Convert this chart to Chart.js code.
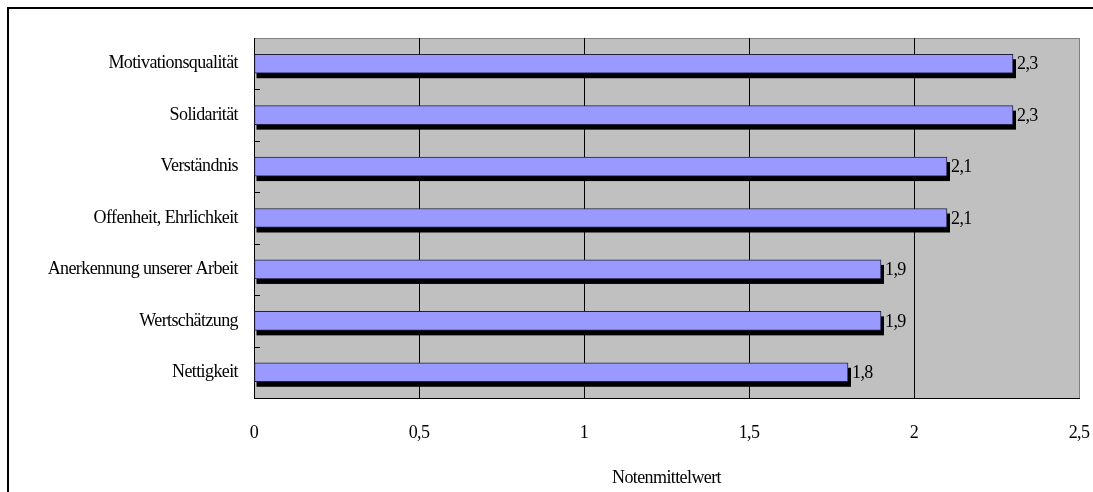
<!DOCTYPE html>
<html>
<head>
<meta charset="utf-8">
<title>Notenmittelwert</title>
<style>
    body { margin: 0; background: #fff; }
    #wrap { width: 1093px; height: 492px; }
</style>
</head>
<body>

<div id="wrap">
    <canvas id="myChart" width="1093" height="492"></canvas>
</div>

<script src="https://cdn.jsdelivr.net/npm/chart.js"></script>

<script>

    const kategorien = ['Motivationsqualität', 'Solidarität', 'Verständnis', 'Offenheit, Ehrlichkeit',
        'Anerkennung unserer Arbeit', 'Wertschätzung', 'Nettigkeit'];
    const mittelwerte = [2.3, 2.3, 2.1, 2.1, 1.9, 1.9, 1.8];
    const achseMin = 0;
    const achseMax = 2.5;
    const achseSchritt = 0.5;

    const schrift = 'Liberation Serif, Times New Roman, serif';

    function komma(v) {
        return String(Math.round(v * 10) / 10).replace('.', ',');
    }

    // grauer Hintergrund, Rahmen und kleine Striche an der y-Achse
    const hintergrund = {
        id: 'hintergrund',
        beforeDraw(chart) {
            const ctx = chart.ctx;
            const a = chart.chartArea;
            ctx.save();
            ctx.fillStyle = '#fff';
            ctx.fillRect(0, 0, chart.width, chart.height);
            ctx.strokeStyle = '#000';
            ctx.lineWidth = 2;
            ctx.strokeRect(8, 8, chart.width + 20, chart.height + 20);
            ctx.fillStyle = '#c0c0c0';
            ctx.fillRect(a.left, a.top, a.right - a.left, a.bottom - a.top);
            ctx.strokeStyle = '#808080';
            ctx.lineWidth = 1;
            ctx.strokeRect(a.left + 0.5, a.top + 0.5, a.right - a.left, a.bottom - a.top);
            ctx.restore();
            // etwas schmalere Schrift wie im Original
            ctx.letterSpacing = '-0.6px';
        },
        afterDraw(chart) {
            const ctx = chart.ctx;
            const a = chart.chartArea;
            const n = kategorien.length;
            const h = (a.bottom - a.top) / n;
            ctx.save();
            ctx.strokeStyle = '#000';
            ctx.lineWidth = 1;
            for (let i = 1; i < n; i++) {
                const y = Math.round(a.top + i * h) + 0.5;
                ctx.beginPath();
                ctx.moveTo(a.left, y);
                ctx.lineTo(a.left + 6, y);
                ctx.stroke();
            }
            ctx.restore();
            ctx.letterSpacing = '0px';
        }
    };

    // Schatten unter den Balken und Werte daneben
    const schatten = {
        id: 'schatten',
        beforeDatasetsDraw(chart) {
            const ctx = chart.ctx;
            const meta = chart.getDatasetMeta(0);
            ctx.save();
            ctx.fillStyle = '#000';
            meta.data.forEach((bar) => {
                const p = bar.getProps(['x', 'y', 'base', 'height']);
                ctx.fillRect(p.base + 2, p.y - p.height / 2 + 5, p.x - p.base + 1, p.height);
            });
            ctx.restore();
        },
        afterDatasetsDraw(chart) {
            const ctx = chart.ctx;
            const meta = chart.getDatasetMeta(0);
            ctx.save();
            ctx.fillStyle = '#000';
            ctx.font = '18px ' + schrift;
            ctx.textAlign = 'left';
            ctx.textBaseline = 'middle';
            meta.data.forEach((bar, i) => {
                ctx.fillText(komma(mittelwerte[i]), bar.x + 4, bar.y + 1);
            });
            ctx.restore();
        }
    };

    const ctx = document.getElementById('myChart');

    const data = {
        labels: kategorien,
        datasets: [
            {
            label: 'Notenmittelwert',
            data: mittelwerte,
            backgroundColor: '#9999ff',
            borderColor: '#202040',
            borderWidth: 1,
            borderSkipped: false,
            barThickness: 19
            }
        ]
    };

    const config = {
        type: 'bar',
        data: data,
        plugins: [hintergrund, schatten],
        options: {
            indexAxis: 'y',
            responsive: false,
            animation: false,
            devicePixelRatio: 1,
            layout: {
                padding: { top: 38, right: 0, bottom: 0, left: 0 }
            },
            scales: {
                x: {
                    min: achseMin,
                    max: achseMax,
                    afterFit(scale) {
                        scale.height = 94;
                        scale.paddingRight = 14;
                    },
                    ticks: {
                        stepSize: achseSchritt,
                        color: '#000',
                        padding: 24,
                        font: { family: schrift, size: 18 },
                        callback: (v) => komma(v)
                    },
                    grid: {
                        drawTicks: false,
                        color: (c) => c.tick && c.tick.value >= achseMax ? '#808080' : '#000',
                        lineWidth: 1
                    },
                    border: { color: '#000', width: 1 },
                    title: {
                        display: true,
                        text: 'Notenmittelwert',
                        color: '#000',
                        font: { family: schrift, size: 18 },
                        padding: { top: 0, bottom: 3 }
                    }
                },
                y: {
                    afterFit(scale) { scale.width = 254; },
                    ticks: {
                        color: '#000',
                        padding: 8,
                        font: { family: schrift, size: 18 }
                    },
                    grid: { display: false },
                    border: { color: '#000', width: 1 }
                }
            },
            plugins: {
                legend: { display: false },
                tooltip: { enabled: false }
            }
        }
    };

    new Chart(ctx, config);

</script>

</body>
</html>
